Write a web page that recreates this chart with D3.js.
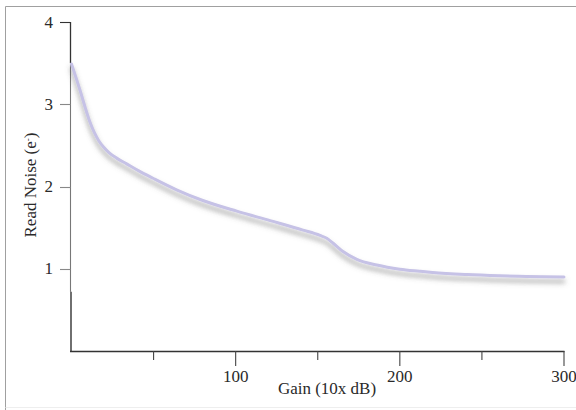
<!DOCTYPE html>
<html><head><meta charset="utf-8">
<script src="https://cdn.jsdelivr.net/npm/d3@7"></script>
<style>
html,body{margin:0;padding:0;background:#fff;}
text{font-family:"Liberation Serif","Times New Roman",serif;fill:#2a2a2a;}
</style></head>
<body>
<script>
const gain = [0, 5.2, 8.2, 11.3, 13.8, 16.5, 19.5, 23, 27.5, 33.6, 41, 49.7, 64, 80, 100.7, 121, 141, 151.4, 155.5, 159.4, 165.4, 173.8, 186, 200, 212, 220, 241, 261, 300];
const noise = [3.49, 3.17, 2.97, 2.78, 2.66, 2.56, 2.48, 2.41, 2.345, 2.275, 2.19, 2.10, 1.96, 1.83, 1.70, 1.585, 1.47, 1.405, 1.37, 1.31, 1.21, 1.115, 1.045, 0.995, 0.97, 0.955, 0.93, 0.915, 0.90];
const yTicks = [1, 2, 3, 4];
const xMajor = [100, 200, 300];
const xMinor = [50, 150, 250];

const W = 576, H = 410;
const svg = d3.select("body").append("svg").attr("width", W).attr("height", H);

// frame
svg.append("line").attr("x1",5.5).attr("x2",W).attr("y1",6.5).attr("y2",6.5).attr("stroke","#a0a0a0");
svg.append("line").attr("x1",5.5).attr("x2",5.5).attr("y1",6.5).attr("y2",H).attr("stroke","#a0a0a0");
svg.append("line").attr("x1",5.5).attr("x2",W).attr("y1",407.5).attr("y2",407.5).attr("stroke","#eeeeee");

const x = d3.scaleLinear().domain([0,300]).range([71.5,564]);
const y = d3.scaleLinear().domain([0,4]).range([351,22]);

const defs = svg.append("defs");
const f = defs.append("filter").attr("id","sh").attr("x","-10%").attr("y","-20%").attr("width","120%").attr("height","160%");
f.append("feDropShadow").attr("dx",0).attr("dy",4.5).attr("stdDeviation",2.8).attr("flood-color","#555").attr("flood-opacity",0.55);

// y axis
const yAxisX = 70.5;
svg.append("line").attr("x1",yAxisX).attr("x2",yAxisX).attr("y1",y(4)).attr("y2",y(3.5)).attr("stroke","#333").attr("stroke-width",1.3);
svg.append("line").attr("x1",yAxisX).attr("x2",yAxisX).attr("y1",y(3.5)).attr("y2",y(0.72)).attr("stroke","#777").attr("stroke-width",1.1);
svg.append("line").attr("x1",yAxisX+0.5).attr("x2",yAxisX+0.5).attr("y1",y(0.72)).attr("y2",y(0)).attr("stroke","#222").attr("stroke-width",1.3);
const yg = svg.append("g");
yTicks.forEach(t=>{
  yg.append("line").attr("x1",60).attr("x2",yAxisX).attr("y1",Math.round(y(t))+0.5).attr("y2",Math.round(y(t))+0.5)
    .attr("stroke", t===4 ? "#333" : "#888").attr("stroke-width",1.1);
  yg.append("text").attr("x",53).attr("y",y(t)).attr("dy","0.33em").attr("text-anchor","end")
    .style("font-size","17px").text(t);
});

// x axis
svg.append("line").attr("x1",70).attr("x2",x(300)+0.5).attr("y1",351.5).attr("y2",351.5).attr("stroke","#333").attr("stroke-width",1.3);
xMajor.forEach(t=>{
  svg.append("line").attr("x1",x(t)).attr("x2",x(t)).attr("y1",351).attr("y2",366).attr("stroke","#444").attr("stroke-width",1.1);
  svg.append("text").attr("x",x(t)).attr("y",382).attr("text-anchor","middle").style("font-size","17px").text(t);
});
xMinor.forEach(t=>{
  svg.append("line").attr("x1",x(t)).attr("x2",x(t)).attr("y1",351).attr("y2",360).attr("stroke","#444").attr("stroke-width",1.1);
});

svg.append("text").attr("x",327).attr("y",394).attr("text-anchor","middle").style("font-size","17px").text("Gain (10x dB)");

const yl = svg.append("text").attr("transform","translate(36,185) rotate(-90)").attr("text-anchor","middle").style("font-size","17px");
yl.append("tspan").text("Read Noise (e");
yl.append("tspan").attr("baseline-shift","super").style("font-size","9px").text("-");
yl.append("tspan").text(")");

// curve
const pts = gain.map((g,i)=>[g,noise[i]]);
const line = d3.line().x(d=>x(d[0])).y(d=>y(d[1])).curve(d3.curveMonotoneX);
svg.append("path").attr("d",line(pts)).attr("fill","none").attr("stroke","#c6c2e6").attr("stroke-width",3)
  .attr("stroke-linecap","round").attr("filter","url(#sh)");
</script>
</body></html>
